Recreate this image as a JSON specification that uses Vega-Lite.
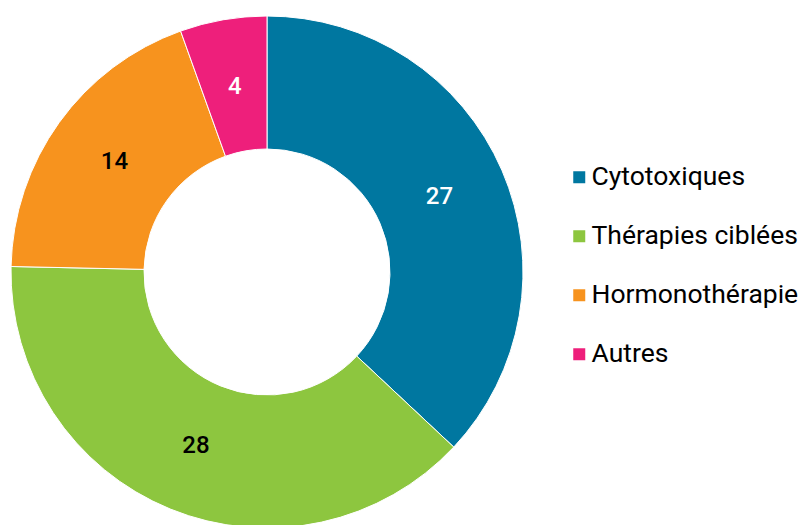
{
  "$schema": "https://vega.github.io/schema/vega-lite/v6.json",
  "width": 534,
  "height": 544,
  "autosize": "pad",
  "padding": 0,
  "background": "white",
  "config": {"view": {"stroke": null}, "font": "Roboto"},
  "data": {"values": [
    {"cat": "Cytotoxiques", "n": 27, "k": 1, "lab": "white"},
    {"cat": "Thérapies ciblées", "n": 28, "k": 2, "lab": "black"},
    {"cat": "Hormonothérapie", "n": 14, "k": 3, "lab": "black"},
    {"cat": "Autres", "n": 4, "k": 4, "lab": "white"}
  ]},
  "encoding": {
    "theta": {"field": "n", "type": "quantitative", "stack": true},
    "order": {"field": "k", "type": "quantitative"}
  },
  "layer": [
    {
      "mark": {"type": "arc", "outerRadius": 256, "innerRadius": 123, "stroke": "white", "strokeWidth": 1},
      "encoding": {
        "color": {
          "field": "cat", "type": "nominal",
          "scale": {"domain": ["Cytotoxiques", "Thérapies ciblées", "Hormonothérapie", "Autres"],
                    "range": ["#0077a0", "#8dc63f", "#f7931e", "#ee1f7b"]},
          "legend": {
            "title": null, "orient": "none", "legendX": 566, "legendY": 164, "padding": 0,
            "symbolType": "square", "symbolSize": 144, "symbolStrokeWidth": 0,
            "labelFontSize": 26.5, "labelColor": "black", "labelFont": "Roboto",
            "labelOffset": -1, "rowPadding": 32, "labelLimit": 400
          }
        }
      }
    },
    {
      "mark": {"type": "text", "radius": 188, "fontSize": 24, "fontWeight": 500, "font": "Roboto"},
      "encoding": {
        "text": {"field": "n", "type": "quantitative"},
        "color": {"field": "lab", "type": "nominal", "scale": null}
      }
    }
  ]
}
